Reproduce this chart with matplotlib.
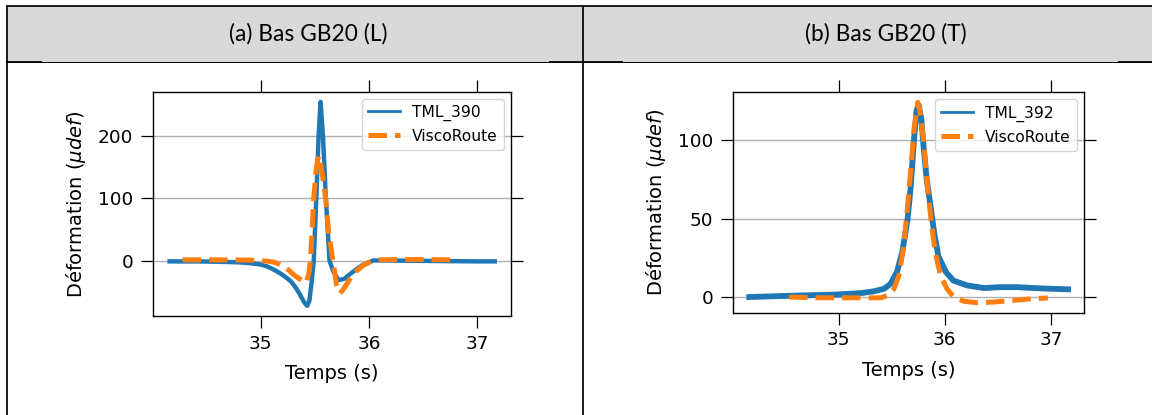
import matplotlib
matplotlib.use("Agg")
import matplotlib.pyplot as plt
from matplotlib.patches import Rectangle

# ---- measured strain signals -------------------------------------------
# (a) Bas GB20 (L): gauge TML_390 and ViscoRoute simulation
t_tml390 = [34.16, 34.40, 34.60, 34.80, 34.91, 35.00, 35.06, 35.12, 35.18, 35.23,
            35.28, 35.32, 35.36, 35.40, 35.43, 35.45, 35.47, 35.49, 35.514, 35.535,
            35.553, 35.575, 35.602, 35.636, 35.67, 35.72, 35.77, 35.82, 35.88, 35.94,
            35.98, 36.04, 36.15, 36.40, 36.70, 37.00, 37.16]
tml390 = [-1, -1, -1.5, -2.5, -4, -6, -9, -14, -20, -26,
          -33, -42, -53, -66, -72, -64, -35, 0, 100, 200,
          254, 200, 100, 0, -17, -31, -29, -22, -14, -7,
          -4, 0.5, 0.5, 0, -0.5, -1, -1]

t_visco_a = [34.28, 34.60, 34.90, 35.05, 35.12, 35.18, 35.21, 35.26, 35.31, 35.36,
             35.40, 35.42, 35.445, 35.46, 35.49, 35.515, 35.535, 35.56, 35.58, 35.60,
             35.627, 35.667, 35.70, 35.734, 35.77, 35.82, 35.88, 35.95, 36.03, 36.10,
             36.30, 36.50, 36.76]
visco_a = [1.5, 1.5, 1, -0.5, -2, -6, -9, -15, -23, -29,
           -33, -35, -20, 0, 100, 150, 168, 150, 125, 100,
           47, 0, -38, -52, -44, -30, -17, -7, 0, 1.5,
           2, 2, 1.5]

# (b) Bas GB20 (T): gauge TML_392 and ViscoRoute simulation
t_tml392 = [34.16, 34.40, 34.645, 34.96, 35.21, 35.33, 35.43, 35.49, 35.55, 35.60,
            35.65, 35.68, 35.71, 35.735, 35.755, 35.78, 35.80, 35.83, 35.87, 35.90,
            35.94, 36.01, 36.08, 36.21, 36.37, 36.52, 36.68, 36.84, 36.99, 37.16]
tml392 = [0, 0.5, 1, 1.5, 2.5, 3.6, 5.3, 8.4, 16, 28.5,
          49.6, 70.7, 100, 119, 122, 113, 96, 75, 56, 41,
          26, 16, 10.5, 7.4, 5.7, 6.3, 6.3, 5.7, 5.3, 4.9]

t_visco_b = [34.535, 34.80, 35.10, 35.40, 35.46, 35.52, 35.57, 35.615, 35.65, 35.685,
             35.71, 35.745, 35.765, 35.80, 35.83, 35.87, 35.91, 35.96, 36.02, 36.085,
             36.18, 36.30, 36.46, 36.65, 36.84, 36.97]
visco_b = [0, -0.5, -0.5, -0.5, 1, 5, 14, 33, 58, 85,
           106.5, 124, 119, 100, 75, 49.6, 28.5, 13.7, 5.3, 0,
           -2.7, -3.6, -3.2, -2.1, -1, -0.6]

x_ticks = [35, 36, 37]
y_ticks_a = [0, 100, 200]
y_ticks_b = [0, 50, 100]
titles = ["(a) Bas GB20 (L)", "(b) Bas GB20 (T)"]
xlabel = "Temps (s)"
ylabel = r"Déformation ($\mu def$)"

BLUE = "#1f77b4"
ORANGE = "#ff7f0e"

W, H = 1152, 415
fig = plt.figure(figsize=(W / 100, H / 100), dpi=100)
fig.patch.set_facecolor("white")

# ---- table frame drawn in pixel units ----------------------------------
tab = fig.add_axes([0, 0, 1, 1], zorder=0)
tab.set_xlim(0, W)
tab.set_ylim(H, 0)
tab.axis("off")
tab.add_patch(Rectangle((7, 6.5), W - 7, 55.5, facecolor="#d9d9d9", edgecolor="none"))
k = dict(color="black", solid_capstyle="butt")
tab.plot([5.8, W], [6.5, 6.5], lw=1.25, **k)          # top border
tab.plot([6.5, 6.5], [5.8, H], lw=1.25, **k)          # left border
tab.plot([583, 583], [5.8, H], lw=1.25, **k)          # column divider
tab.plot([5.8, W], [61.6, 61.6], lw=0.7, **k)         # header rule
for a, b in [(5.8, 42), (549, 623), (1118, W)]:
    tab.plot([a, b], [62.1, 62.1], lw=1.25, **k)
tab.text(308, 33.5, titles[0], ha="center", va="center", fontsize=16.4, family="Lato")
tab.text(886, 33.5, titles[1], ha="center", va="center", fontsize=16.4, family="Lato")


def style(ax, yt):
    ax.set_xticks(x_ticks)
    ax.set_yticks(yt)
    ax.tick_params(direction="out", length=8.5, width=0.9, top=True, right=True,
                   labelsize=13.3, pad=5)
    ax.tick_params(axis="y", pad=6)
    ax.grid(axis="y", color="#b0b0b0", lw=1.0)
    ax.set_axisbelow(True)
    for s in ax.spines.values():
        s.set_linewidth(1.0)
    ax.set_xlabel(xlabel, fontsize=14, labelpad=8.3)
    ax.set_ylabel(ylabel, fontsize=14, labelpad=7)


def add(ax, t1, v1, lab1, t2, v2, lw1):
    ax.plot(t1, v1, color=BLUE, lw=lw1, label=lab1, solid_joinstyle="round")
    ax.plot(t2, v2, color=ORANGE, lw=3.6, ls="--", label="ViscoRoute")
    leg = ax.legend(loc="upper right", fontsize=11.2, borderaxespad=0.45)
    leg.get_lines()[0].set_linewidth(2.0)


ax1 = fig.add_axes([153.3 / W, 1 - 316 / H, (511 - 153.3) / W, (316 - 91.7) / H], zorder=2)
add(ax1, t_tml390, tml390, "TML_390", t_visco_a, visco_a, 3.2)
style(ax1, y_ticks_a)

ax2 = fig.add_axes([733.3 / W, 1 - 312.7 / H, (1084 - 733.3) / W, (312.7 - 92.3) / H], zorder=2)
add(ax2, t_tml392, tml392, "TML_392", t_visco_b, visco_b, 4.2)
style(ax2, y_ticks_b)

fig.savefig("out.png", dpi=100)
